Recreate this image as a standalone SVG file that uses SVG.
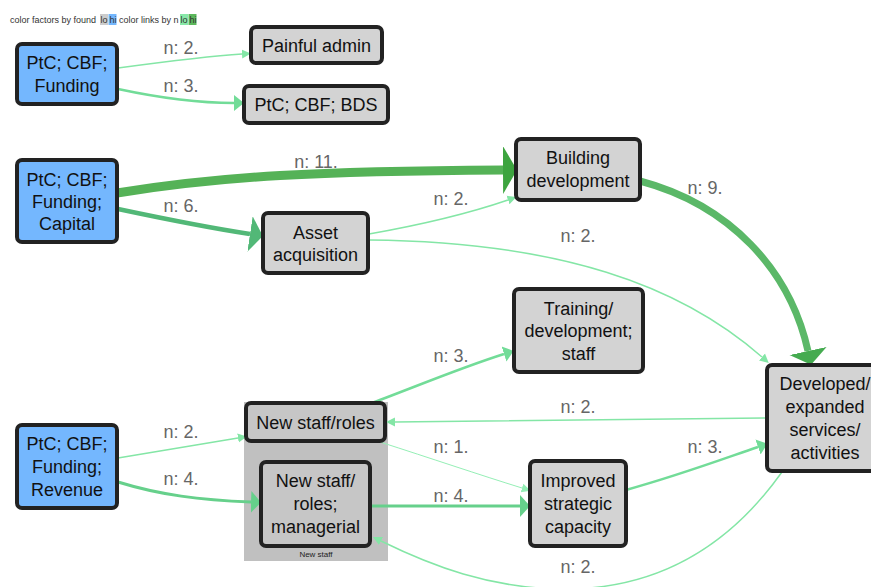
<svg xmlns="http://www.w3.org/2000/svg" width="871" height="587" viewBox="0 0 871 587">
<defs>
<style>
text{font-family:"Liberation Sans",Arial,Helvetica,sans-serif}
.leg{font-size:9px;fill:#333}
.box{stroke:#222;stroke-width:4}
.fac{fill:#d3d3d3}
.src{fill:#74b7fe}
.inc{fill:#c6c6c6}
.nt{font-size:18px;fill:#111;text-anchor:middle}
.el{font-size:18px;fill:#666;text-anchor:middle}
.e{fill:none;stroke-linecap:butt}
.c1{stroke:#95efb6;stroke-width:1}
.c2{stroke:#84e6a6;stroke-width:1.5}
.c3{stroke:#72dc98;stroke-width:2.5}
.c4{stroke:#66d08b;stroke-width:3}
.c6{stroke:#52b877;stroke-width:4.5}
.c9{stroke:#5bb868;stroke-width:7}
.c11{stroke:#55b257;stroke-width:9}
</style>
<marker id="a1" markerUnits="userSpaceOnUse" markerWidth="12" markerHeight="12" refX="0" refY="6" orient="auto" viewBox="0 0 12 12"><path d="M0,1.5L9,6L0,10.5Z" fill="#95efb6"/></marker>
<marker id="a2" markerUnits="userSpaceOnUse" markerWidth="12" markerHeight="12" refX="0" refY="6" orient="auto" viewBox="0 0 12 12"><path d="M0,1.5L9,6L0,10.5Z" fill="#84e6a6"/></marker>
<marker id="a3" markerUnits="userSpaceOnUse" markerWidth="14" markerHeight="20" refX="0" refY="10" orient="auto" viewBox="0 0 14 20"><path d="M0,2L10,10L0,18Z" fill="#72dc98"/></marker>
<marker id="a4" markerUnits="userSpaceOnUse" markerWidth="14" markerHeight="26" refX="0" refY="13" orient="auto" viewBox="0 0 14 26"><path d="M0,2L10,13L0,24Z" fill="#66d08b"/></marker>
<marker id="a6" markerUnits="userSpaceOnUse" markerWidth="16" markerHeight="40" refX="0" refY="20" orient="auto" viewBox="0 0 16 40"><path d="M0,2L13,20L0,38Z" fill="#52b877"/></marker>
<marker id="a9" markerUnits="userSpaceOnUse" markerWidth="16" markerHeight="44" refX="0" refY="22" orient="auto" viewBox="0 0 16 44"><path d="M0,3L14,22L0,41Z" fill="#45ab50"/></marker>
<marker id="a11" markerUnits="userSpaceOnUse" markerWidth="16" markerHeight="52" refX="0" refY="26" orient="auto" viewBox="0 0 16 52"><path d="M0,2L14,26L0,50Z" fill="#3da43f"/></marker>
</defs>
<rect width="871" height="587" fill="#ffffff"/>

<g id="legend">
<rect x="100" y="14" width="8" height="11" fill="#cccccc"/>
<rect x="108.5" y="14" width="8" height="11" fill="#74b7fe"/>
<rect x="180" y="14" width="8" height="11" fill="#87e8a8"/>
<rect x="188.5" y="14" width="8" height="11" fill="#5cb85c"/>
<text class="leg" x="10" y="23">color factors by found</text>
<text class="leg" x="100.5" y="23">lo</text>
<text class="leg" x="109.5" y="23">hi</text>
<text class="leg" x="119" y="23">color links by n</text>
<text class="leg" x="180.5" y="23">lo</text>
<text class="leg" x="189.5" y="23">hi</text>
</g>

<g id="cluster-new-staff">
<rect x="244" y="402" width="144" height="159" fill="#c0c0c0"/>
<text x="316" y="557" font-size="8" text-anchor="middle" fill="#222">New staff</text>
</g>

<g id="connectors">
<path class="e c2" d="M118,68 C170,61 210,56 242,54" marker-end="url(#a2)"/>
<text class="el" x="181" y="54">n: 2.</text>
<path class="e c3" d="M118,89 C160,98 195,103 234,103" marker-end="url(#a3)"/>
<text class="el" x="181" y="92">n: 3.</text>
<path class="e c11" d="M117,193 C220,176 320,171 503,170" marker-end="url(#a11)"/>
<text class="el" x="316" y="168">n: 11.</text>
<path class="e c6" d="M118,209 C170,220 210,228 250,234" marker-end="url(#a6)"/>
<text class="el" x="181" y="212">n: 6.</text>
<path class="e c2" d="M369,234 C420,225 470,213 508,200" marker-end="url(#a2)"/>
<text class="el" x="451" y="205">n: 2.</text>
<path class="e c2" d="M369,240 C560,242 680,285 762,357" marker-end="url(#a2)"/>
<text class="el" x="578" y="242">n: 2.</text>
<path class="e c9" d="M640,181 C730,205 790,270 808,351" marker-end="url(#a9)"/>
<text class="el" x="705" y="194">n: 9.</text>
<path class="e c3" d="M372,403 C420,385 460,368 504,354" marker-end="url(#a3)"/>
<text class="el" x="451" y="362">n: 3.</text>
<path class="e c2" d="M767,418 C600,419 500,421 395,422" marker-end="url(#a2)"/>
<text class="el" x="578" y="413">n: 2.</text>
<path class="e c2" d="M118,458 L238,438" marker-end="url(#a2)"/>
<text class="el" x="181" y="438">n: 2.</text>
<path class="e c4" d="M118,482 C160,495 200,500 251,502" marker-end="url(#a4)"/>
<text class="el" x="181" y="485">n: 4.</text>
<path class="e c1" d="M380,442 C430,458 480,475 522,488" marker-end="url(#a1)"/>
<text class="el" x="451" y="453">n: 1.</text>
<path class="e c4" d="M370,506 C420,506 480,506 520,506" marker-end="url(#a4)"/>
<text class="el" x="451" y="502">n: 4.</text>
<path class="e c3" d="M626,490 C680,475 720,460 758,447" marker-end="url(#a3)"/>
<text class="el" x="705" y="453">n: 3.</text>
<path class="e c2" d="M782,472 C730,545 660,589 565,589 C490,589 430,565 381,541" marker-end="url(#a2)"/>
<text class="el" x="578" y="573">n: 2.</text>
</g>

<g id="n-funding">
<rect class="box src" x="17" y="44" width="100" height="60" rx="5"/>
<text class="nt" x="67" y="69">PtC; CBF;</text>
<text class="nt" x="67" y="92">Funding</text>
</g>
<g id="n-painful-admin">
<rect class="box fac" x="251" y="27" width="131" height="36" rx="5"/>
<text class="nt" x="316.5" y="51.5">Painful admin</text>
</g>
<g id="n-bds">
<rect class="box fac" x="244" y="86" width="144" height="37" rx="5"/>
<text class="nt" x="316" y="111">PtC; CBF; BDS</text>
</g>
<g id="n-capital">
<rect class="box src" x="17" y="160" width="100" height="82" rx="5"/>
<text class="nt" x="67" y="185.5">PtC; CBF;</text>
<text class="nt" x="67" y="207.5">Funding;</text>
<text class="nt" x="67" y="229.5">Capital</text>
</g>
<g id="n-asset">
<rect class="box fac" x="263" y="213" width="105" height="60" rx="5"/>
<text class="nt" x="315.5" y="238.5">Asset</text>
<text class="nt" x="315.5" y="260.5">acquisition</text>
</g>
<g id="n-building">
<rect class="box fac" x="516" y="139" width="124" height="61" rx="5"/>
<text class="nt" x="578" y="163.5">Building</text>
<text class="nt" x="578" y="186.5">development</text>
</g>
<g id="n-training">
<rect class="box fac" x="514" y="289" width="129" height="83" rx="5"/>
<text class="nt" x="578.5" y="314.5">Training/</text>
<text class="nt" x="578.5" y="337">development;</text>
<text class="nt" x="578.5" y="359.5">staff</text>
</g>
<g id="n-developed">
<rect class="box fac" x="767" y="365" width="116" height="106" rx="5"/>
<text class="nt" x="825" y="389.5">Developed/</text>
<text class="nt" x="825" y="412.5">expanded</text>
<text class="nt" x="825" y="435.5">services/</text>
<text class="nt" x="825" y="458.5">activities</text>
</g>
<g id="n-new-staff-roles">
<rect class="box inc" x="246" y="403" width="139" height="38" rx="5"/>
<text class="nt" x="315.5" y="428.5">New staff/roles</text>
</g>
<g id="n-managerial">
<rect class="box inc" x="261" y="462" width="109" height="84" rx="5"/>
<text class="nt" x="315.5" y="486.5">New staff/</text>
<text class="nt" x="315.5" y="509.5">roles;</text>
<text class="nt" x="315.5" y="532.5">managerial</text>
</g>
<g id="n-revenue">
<rect class="box src" x="17" y="425" width="100" height="83" rx="5"/>
<text class="nt" x="67" y="449.5">PtC; CBF;</text>
<text class="nt" x="67" y="472.5">Funding;</text>
<text class="nt" x="67" y="495.5">Revenue</text>
</g>
<g id="n-improved">
<rect class="box fac" x="530" y="461" width="96" height="85" rx="5"/>
<text class="nt" x="578" y="486.5">Improved</text>
<text class="nt" x="578" y="509.5">strategic</text>
<text class="nt" x="578" y="532.5">capacity</text>
</g>
</svg>
